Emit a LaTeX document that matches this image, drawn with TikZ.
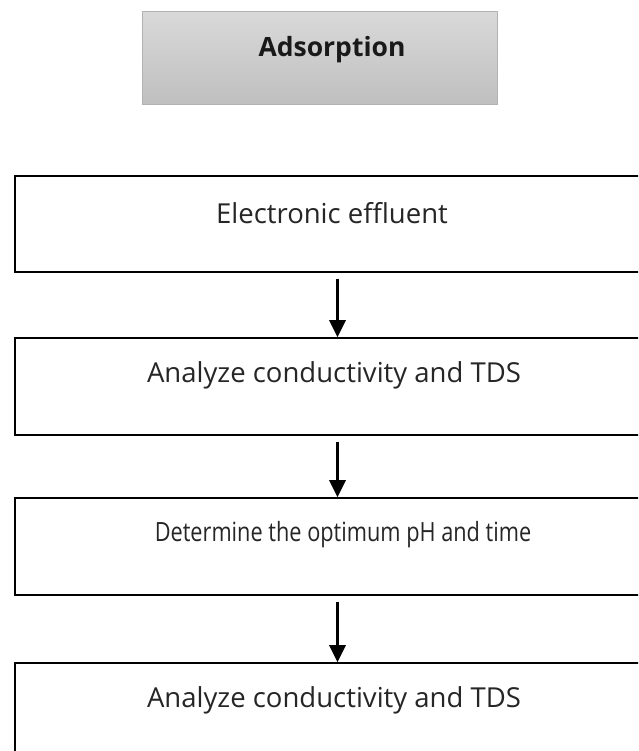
\documentclass[tikz,border=0pt]{standalone}
\usepackage{fontspec}
\setmainfont{Open Sans}
\usetikzlibrary{arrows.meta}
\tikzset{
  stepbox/.style={draw=black, line width=1.6pt, fill=white, rectangle, inner sep=0pt},
  steptext/.style={font=\fontsize{27.5}{32}\selectfont, text=black!85, inner sep=0pt},
  headbox/.style={draw=black!30, line width=1pt, rectangle, inner sep=0pt,
    top color=black!15, bottom color=black!25},
  headtext/.style={font=\fontsize{26.5}{31}\selectfont\bfseries, text=black!90, inner sep=0pt},
  flowarrow/.style={line width=3pt, -{Triangle[width=16pt,length=17pt]}}
}
\begin{document}
\begin{tikzpicture}[x=1pt, y=-1pt]
  \useasboundingbox (0,0) rectangle (638,751);
  \clip (0,0) rectangle (638,751);

  % title box
  \node[headbox, minimum width=355pt, minimum height=93pt] (head) at (319.5,58.5) {};
  \node[headtext] (headlbl) at (332,50) {Adsorption};

  % process steps (right side runs past the page edge)
  \node[stepbox, minimum width=645pt, minimum height=96pt]  (s1) at (337.5,224) {};
  \node[stepbox, minimum width=645pt, minimum height=97pt]  (s2) at (337.5,386.5) {};
  \node[stepbox, minimum width=645pt, minimum height=97pt]  (s3) at (337.5,546.5) {};
  \node[stepbox, minimum width=645pt, minimum height=107pt] (s4) at (337.5,716.5) {};

  \node[steptext] (t1) at (332,213) {Electronic effluent};
  \node[steptext] (t2) at (334,375) {Analyze conductivity and TDS};
  \node[steptext, font=\fontsize{26.5}{31}\selectfont] (t3) at (343,535)
    {\scalebox{0.82}[1]{Determine the optimum pH and time}};
  \node[steptext] (t4) at (334,700) {Analyze conductivity and TDS};

  % connectors
  \draw[flowarrow] ([yshift=-6pt]s1.south) -- (s2.north);
  \draw[flowarrow] ([yshift=-6pt]s2.south) -- (s3.north);
  \draw[flowarrow] ([yshift=-6pt]s3.south) -- (s4.north);
\end{tikzpicture}
\end{document}
